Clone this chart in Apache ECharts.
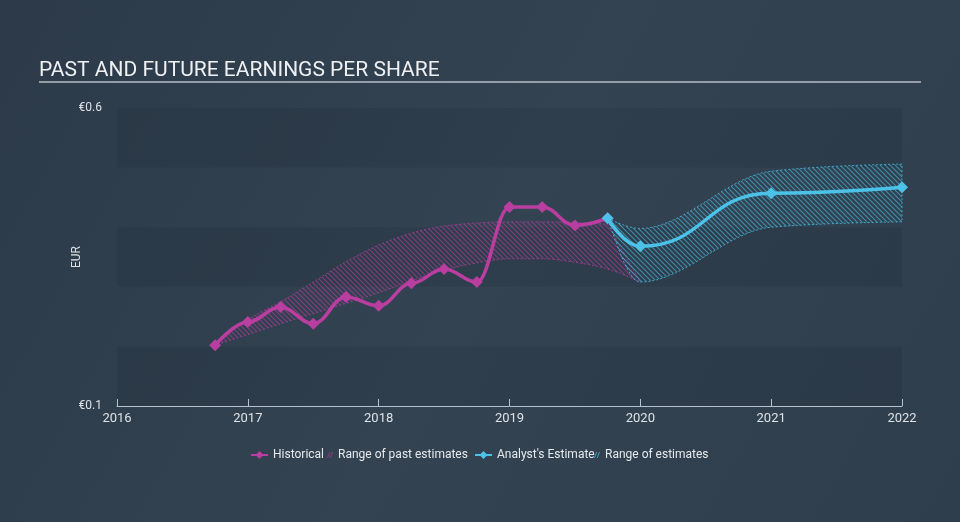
<!DOCTYPE html>
<html>
<head>
<meta charset="utf-8">
<script src="https://cdn.jsdelivr.net/npm/echarts@6/dist/echarts.min.js"></script>
<style>
html,body{margin:0;padding:0;width:960px;height:522px;overflow:hidden;}
#c{width:960px;height:522px;}
</style>
</head>
<body>
<div id="c"></div>
<script>
// ---- data ----
var xTicks = [2016, 2017, 2018, 2019, 2020, 2021, 2022];
var yTickLabels = ['€0.1', '€0.6'];

var histX = [2016.75, 2017.0, 2017.25, 2017.5, 2017.75, 2018.0, 2018.25, 2018.5, 2018.75, 2019.0, 2019.25, 2019.5, 2019.75];
var histY = [0.202, 0.241, 0.266, 0.238, 0.283, 0.268, 0.306, 0.330, 0.308, 0.434, 0.434, 0.403, 0.415];

var pastHighX = [2016.75, 2017.0, 2017.25, 2017.5, 2017.75, 2018.0, 2018.25, 2018.5, 2018.75, 2019.0, 2019.25, 2019.5, 2019.75];
var pastHigh  = [0.202, 0.245, 0.275, 0.308, 0.342, 0.370, 0.390, 0.402, 0.407, 0.409, 0.409, 0.408, 0.405];
var pastLowX  = [2016.75, 2017.0, 2017.25, 2017.5, 2017.75, 2018.0, 2018.25, 2018.5, 2018.75, 2019.0, 2019.25, 2019.5, 2019.75, 2020.0];
var pastLow   = [0.202, 0.220, 0.238, 0.255, 0.272, 0.290, 0.310, 0.328, 0.340, 0.347, 0.347, 0.341, 0.330, 0.308];

var estX = [2019.75, 2020.0, 2021.0, 2022.0];
var estY = [0.415, 0.368, 0.457, 0.467];
var estLow = [0.415, 0.308, 0.400, 0.409];
var estHigh = [0.415, 0.398, 0.494, 0.506];

// ---- helpers ----
function pairs(xs, ys) { return xs.map(function (x, i) { return [x, ys[i]]; }); }
function hatch(color) {
  var c = document.createElement('canvas');
  c.width = 5; c.height = 5;
  var g = c.getContext('2d');
  g.strokeStyle = color; g.lineWidth = 1.1;
  g.beginPath();
  g.moveTo(0, 0); g.lineTo(5, 5);
  g.moveTo(-1, 4); g.lineTo(1, 6);
  g.moveTo(4, -1); g.lineTo(6, 1);
  g.stroke();
  return c;
}
// monotone-x cubic tangents (pixel space)
function tangents(p) {
  var n = p.length, t = new Array(n), i;
  if (n < 2) { t[0] = 0; return t; }
  function sgn(v) { return v < 0 ? -1 : 1; }
  for (i = 1; i < n - 1; i++) {
    var h0 = p[i][0] - p[i - 1][0], h1 = p[i + 1][0] - p[i][0];
    var s0 = (p[i][1] - p[i - 1][1]) / h0, s1 = (p[i + 1][1] - p[i][1]) / h1;
    var pp = (s0 * h1 + s1 * h0) / (h0 + h1);
    t[i] = (sgn(s0) + sgn(s1)) * Math.min(Math.abs(s0), Math.abs(s1), 0.5 * Math.abs(pp)) || 0;
  }
  var h = p[1][0] - p[0][0];
  var sA = (p[1][1] - p[0][1]) / h;
  t[0] = n > 2 ? (3 * sA - t[1]) / 2 : sA;
  var hb = p[n - 1][0] - p[n - 2][0];
  var sB = (p[n - 1][1] - p[n - 2][1]) / hb;
  t[n - 1] = n > 2 ? (3 * sB - t[n - 2]) / 2 : sB;
  return t;
}
function curveForward(p) {
  var t = tangents(p), s = '';
  for (var i = 0; i < p.length - 1; i++) {
    var dx = (p[i + 1][0] - p[i][0]) / 3;
    s += ' C' + (p[i][0] + dx) + ',' + (p[i][1] + dx * t[i]) + ' ' + (p[i + 1][0] - dx) + ',' + (p[i + 1][1] - dx * t[i + 1]) + ' ' + p[i + 1][0] + ',' + p[i + 1][1];
  }
  return s;
}
function curveBackward(p) {
  var t = tangents(p), s = '';
  for (var i = p.length - 1; i > 0; i--) {
    var dx = (p[i][0] - p[i - 1][0]) / 3;
    s += ' C' + (p[i][0] - dx) + ',' + (p[i][1] - dx * t[i]) + ' ' + (p[i - 1][0] + dx) + ',' + (p[i - 1][1] + dx * t[i - 1]) + ' ' + p[i - 1][0] + ',' + p[i - 1][1];
  }
  return s;
}
function rangeRenderer(hx, hy, lx, ly, fillImg, stroke) {
  return function (params, api) {
    var up = hx.map(function (x, i) { return api.coord([x, hy[i]]); });
    var lo = lx.map(function (x, i) { return api.coord([x, ly[i]]); });
    var d = 'M' + up[0][0] + ',' + up[0][1] + curveForward(up) +
      ' L' + lo[lo.length - 1][0] + ',' + lo[lo.length - 1][1] + curveBackward(lo) + ' Z';
    return {
      type: 'path',
      shape: { pathData: d },
      style: { fill: { image: fillImg, repeat: 'repeat' }, stroke: stroke, lineWidth: 1, lineDash: [2, 2] },
      silent: true
    };
  };
}

var MAG = '#b93ea0';
var CYA = '#4cc2e8';
var slashIcon = 'path://M0,10L4,0L5.6,0L1.6,10Z M4.4,10L8.4,0L10,0L6,10Z';
var legendText = { color: '#e6e9ec', fontFamily: 'Roboto', fontSize: 12 };

var chart = echarts.init(document.getElementById('c'), null, { renderer: 'canvas' });
chart.setOption({
  animation: false,
  backgroundColor: {
    type: 'linear', x: 0, y: 0, x2: 1, y2: 1,
    colorStops: [{ offset: 0, color: '#2c3a49' }, { offset: 0.5, color: '#334352' }, { offset: 1, color: '#2f3e4d' }]
  },
  title: {
    text: 'PAST AND FUTURE EARNINGS PER SHARE',
    left: 34, top: 55,
    textStyle: { color: '#eef0f2', fontFamily: 'Roboto', fontWeight: 'normal', fontSize: 21 }
  },
  graphic: [{
    type: 'line', shape: { x1: 39, y1: 82, x2: 921, y2: 82 },
    style: { stroke: '#b7bec6', lineWidth: 1.5 }, silent: true
  }],
  grid: { left: 117, right: 58, top: 108, bottom: 116 },
  legend: [
    { left: 250, top: 449, padding: 0, itemWidth: 17, itemHeight: 10, textStyle: legendText,
      data: [{ name: 'Historical' }] },
    { left: 327, top: 449, padding: 0, itemWidth: 6, itemHeight: 10, textStyle: legendText,
      data: [{ name: 'Range of past estimates', icon: slashIcon, itemStyle: { color: MAG, opacity: 0.7 } }] },
    { left: 474, top: 449, padding: 0, itemWidth: 17, itemHeight: 10, textStyle: legendText,
      data: [{ name: "Analyst's Estimate" }] },
    { left: 594, top: 449, padding: 0, itemWidth: 6, itemHeight: 10, textStyle: legendText,
      data: [{ name: 'Range of estimates', icon: slashIcon, itemStyle: { color: CYA, opacity: 0.7 } }] }
  ],
  xAxis: {
    type: 'value', min: 2016, max: 2022, interval: 1,
    axisLine: { show: true, onZero: false, lineStyle: { color: '#b9c3cd', width: 1 } },
    axisTick: { show: true, inside: true, length: 7, lineStyle: { color: '#b9c3cd' } },
    axisLabel: { color: '#dde2e6', fontFamily: 'Roboto', fontSize: 13, margin: 6,
      formatter: function (v) { return xTicks.indexOf(v) >= 0 ? String(v) : ''; } },
    splitLine: { show: false }
  },
  yAxis: {
    type: 'value', min: 0.1, max: 0.6, interval: 0.1,
    name: 'EUR', nameLocation: 'middle', nameGap: 34, nameRotate: 90, nameMoveOverlap: false,
    nameTextStyle: { color: '#dde2e6', fontFamily: 'Roboto', fontSize: 12 },
    axisLine: { show: false }, axisTick: { show: false },
    axisLabel: { color: '#dde2e6', fontFamily: 'Roboto', fontSize: 12, margin: 15,
      formatter: function (v) {
        if (Math.abs(v - 0.1) < 1e-6) return yTickLabels[0];
        if (Math.abs(v - 0.6) < 1e-6) return yTickLabels[1];
        return '';
      } },
    splitLine: { show: false },
    splitArea: { show: true, areaStyle: { color: ['rgba(20,30,42,0.13)', 'rgba(0,0,0,0)'] } }
  },
  series: [
    { name: 'Range of past estimates', type: 'custom', coordinateSystem: 'cartesian2d', z: 1,
      color: MAG, data: [[2018, 0.3]],
      renderItem: rangeRenderer(pastHighX, pastHigh, pastLowX, pastLow, hatch('rgba(185,62,160,0.6)'), 'rgba(185,62,160,0.7)') },
    { name: 'Range of estimates', type: 'custom', coordinateSystem: 'cartesian2d', z: 2,
      color: CYA, data: [[2021, 0.45]],
      renderItem: rangeRenderer(estX, estHigh, estX, estLow, hatch('rgba(76,194,232,0.6)'), 'rgba(76,194,232,0.75)') },
    { name: 'Historical', type: 'line', data: pairs(histX, histY), smooth: 0.4, smoothMonotone: 'x', z: 5,
      symbol: 'diamond', symbolSize: 12, showAllSymbol: true, color: MAG,
      itemStyle: { color: MAG }, lineStyle: { color: MAG, width: 3.5 } },
    { name: "Analyst's Estimate", type: 'line', data: pairs(estX, estY), smooth: 0.5, smoothMonotone: 'x', z: 6,
      symbol: 'diamond', symbolSize: 12, showAllSymbol: true, color: CYA,
      itemStyle: { color: CYA }, lineStyle: { color: CYA, width: 3.5 } }
  ]
});
</script>
</body>
</html>
